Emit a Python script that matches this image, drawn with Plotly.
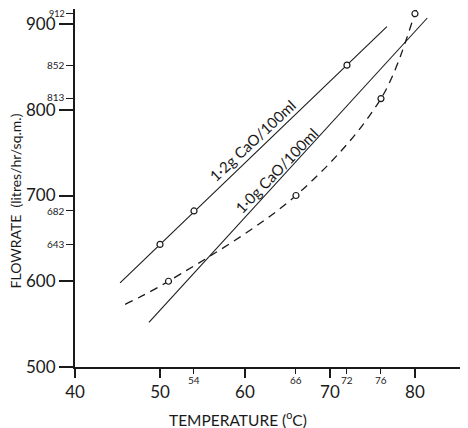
import plotly.graph_objects as go

# ---- data ----
temp_12 = [50, 54, 72]
flow_12 = [643, 682, 852]
line12_x = [45.3, 76.7]
line12_y = [598, 897]

line10_x = [48.7, 81.45]
line10_y = [552, 907]

temp_dash = [51, 66, 76, 80]
flow_dash = [600, 700, 813, 912]
curve_x = [45.9, 51, 66, 76, 80, 80.2]
curve_y = [573, 600, 700, 813, 912, 917]

x_major = [40, 50, 60, 70, 80]
x_minor = [54, 66, 72, 76]
y_major = [500, 600, 700, 800, 900]
y_major_text = ["500", "600", "700", "800", "900"]
y_minor = [643, 682, 813, 852, 912]

FONT = "Lato"
INK = "#1a1a1a"

fig = go.Figure()

fig.add_trace(go.Scatter(x=line12_x, y=line12_y, mode="lines",
                         line=dict(color=INK, width=1.1), hoverinfo="skip"))
fig.add_trace(go.Scatter(x=line10_x, y=line10_y, mode="lines",
                         line=dict(color=INK, width=1.1), hoverinfo="skip"))
fig.add_trace(go.Scatter(x=curve_x, y=curve_y, mode="lines",
                         line=dict(color=INK, width=1.3, shape="spline", dash="8px,6px"),
                         hoverinfo="skip"))
fig.add_trace(go.Scatter(x=temp_12, y=flow_12, mode="markers",
                         marker=dict(symbol="circle", size=6, color="white",
                                     line=dict(color=INK, width=1.2))))
fig.add_trace(go.Scatter(x=temp_dash, y=flow_dash, mode="markers",
                         marker=dict(symbol="circle", size=6, color="white",
                                     line=dict(color=INK, width=1.2))))

annotations = []
for v in y_minor:
    annotations.append(dict(x=0, xref="paper", y=v, yref="y", text=str(v),
                            showarrow=False, xanchor="right", yanchor="middle",
                            xshift=-8, yshift=2 if v == 813 else 0,
                            font=dict(family=FONT, size=9 if v == 912 else 10, color=INK)))
for v in x_minor:
    annotations.append(dict(x=v, xref="x", y=0, yref="paper", text=str(v),
                            showarrow=False, xanchor="center", yanchor="middle",
                            yshift=-13, font=dict(family=FONT, size=10, color=INK)))

annotations.append(dict(x=60.94, y=764.7, xref="x", yref="y",
                        text="1·2g CaO/100ml", showarrow=False, textangle=-43,
                        font=dict(family=FONT, size=15, color=INK)))
annotations.append(dict(x=63.76, y=729.7, xref="x", yref="y",
                        text="1·0g CaO/100ml", showarrow=False, textangle=-46,
                        font=dict(family=FONT, size=15, color=INK)))

annotations.append(dict(x=0.415, y=-0.1425, xref="paper", yref="paper",
                        text="TEMPERATURE (<sup>o</sup>C)", showarrow=False,
                        xanchor="center", yanchor="middle",
                        font=dict(family=FONT, size=15.5, color=INK)))
annotations.append(dict(x=-0.152, y=0.463, xref="paper", yref="paper",
                        text="FLOWRATE  (litres/hr/sq.m.)", showarrow=False,
                        textangle=-90, xanchor="center", yanchor="middle",
                        font=dict(family=FONT, size=14, color=INK)))

# page has an 8px body margin, so the figure is offset by 8px
fig.update_layout(
    width=460, height=420,
    margin=dict(l=67, r=0, t=1, b=61),
    paper_bgcolor="white", plot_bgcolor="white",
    showlegend=False,
    annotations=annotations,
    xaxis=dict(range=[40, 86.24], showgrid=False, zeroline=False,
               showline=True, linecolor=INK, linewidth=2,
               tickmode="array", tickvals=x_major,
               ticks="outside", ticklen=9, tickwidth=1.5, tickcolor=INK,
               tickfont=dict(family=FONT, size=17, color=INK),
               minor=dict(tickmode="array", tickvals=x_minor, ticks="outside",
                          ticklen=5, tickwidth=1.2, tickcolor=INK)),
    yaxis=dict(range=[500, 917.5], showgrid=False, zeroline=False,
               showline=True, linecolor=INK, linewidth=2,
               tickmode="array", tickvals=y_major, ticktext=y_major_text,
               ticks="outside", ticklen=14, tickwidth=1.5, tickcolor=INK,
               tickfont=dict(family=FONT, size=17, color=INK),
               minor=dict(tickmode="array", tickvals=y_minor, ticks="outside",
                          ticklen=7, tickwidth=1.2, tickcolor=INK)),
)

fig.write_html("out.html")
